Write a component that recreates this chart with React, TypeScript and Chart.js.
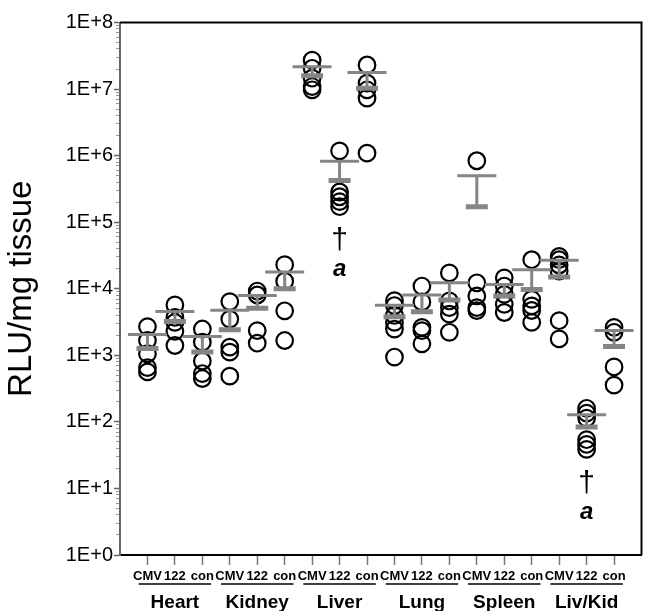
import React, { useEffect, useRef } from "react";
import { Chart, registerables } from "chart.js";

Chart.register(...registerables);

const conditionLabels = ["CMV", "122", "con"];
const tissueLabels = ["Heart", "Kidney", "Liver", "Lung", "Spleen", "Liv/Kid"];
const yTickExponents = [0, 1, 2, 3, 4, 5, 6, 7, 8];

const heartValues = [
  [2700, 1670, 1055, 653, 563],
  [5720, 3705, 3120, 2295, 1405],
  [2483, 1574, 821, 532, 448],
];
const kidneyValues = [
  [6410, 3497, 1327, 1118, 486],
  [9240, 8060, 2350, 1521],
  [22970, 13010, 4660, 1668],
];
const liverValues = [
  [2.72e7, 2.05e7, 1.455e7, 1.09e7, 9.75e6],
  [1.18e6, 2.84e5, 2.41e5, 2.04e5, 1.71e5],
  [2.3e7, 1.225e7, 9.75e6, 7.33e6, 1.09e6],
];
const lungValues = [
  [6630, 5590, 3970, 3120, 2480, 942],
  [10970, 6340, 2630, 2350, 1486],
  [17300, 6560, 5215, 4150, 2218],
];
const spleenValues = [
  [8.37e5, 12280, 7790, 5200, 4700],
  [14580, 10970, 8230, 5840, 4400],
  [27300, 6930, 5530, 4710, 3120],
];
const livKidValues = [
  [30620, 27300, 22750, 18340, 3310, 1763],
  [160, 135, 114, 54, 45.8, 38.6],
  [2630, 2218, 669, 357],
];

// mean (short thick bar) and upper error (long thin bar), per category
const meanValues = [1270, 3230, 1117, 2431, 5094, 10000, 1.59e7, 4.22e5, 1.03e7, 3795, 4500, 6790, 1.7e5, 7790, 9770, 15080, 83.7, 1358];
const upperValues = [2050, 4550, 1914, 4756, 7940, 17900, 2.16e7, 8.2e5, 1.78e7, 5650, 8060, 12280, 5.0e5, 11590, 19360, 26700, 128, 2350];

// categories marked with dagger and "a"
const annotatedCategories = [7, 16];
const daggerText = "\u2020";
const letterText = "a";

const allValues = [heartValues, kidneyValues, liverValues, lungValues, spleenValues, livKidValues].flat();

const FONT = "'Liberation Sans', Arial, sans-serif";
const GREY = "#858585";

export default function App() {
  const ref = useRef<HTMLCanvasElement | null>(null);

  useEffect(() => {
    if (!ref.current) return;

    const points: { x: number; y: number }[] = [];
    allValues.forEach((vals, i) => vals.forEach((v) => points.push({ x: i + 1, y: v })));
    const means = meanValues.map((v, i) => ({ x: i + 1, y: v }));
    const uppers = upperValues.map((v, i) => ({ x: i + 1, y: v }));
    const stems: { x: number; y: number | null }[] = [];
    meanValues.forEach((v, i) => {
      stems.push({ x: i + 1, y: v });
      stems.push({ x: i + 1, y: upperValues[i] });
      stems.push({ x: i + 1, y: null });
    });

    const decorPlugin = {
      id: "decor",
      afterDatasetsDraw(chart: any) {
        const { ctx, scales } = chart;
        const x = scales.x;
        const y = scales.y;
        ctx.save();
        annotatedCategories.forEach((idx) => {
          const vals = allValues[idx];
          const minV = Math.min(...vals);
          const py = y.getPixelForValue(minV);
          const px = x.getPixelForValue(idx + 1);
          ctx.fillStyle = "#000";
          ctx.textAlign = "center";
          ctx.textBaseline = "middle";
          ctx.font = `30px ${FONT}`;
          ctx.fillText(daggerText, px, py + 34);
          ctx.font = `italic bold 24px ${FONT}`;
          ctx.fillText(letterText, px, py + 63);
        });
        ctx.restore();
      },
      afterDraw(chart: any) {
        const { ctx, chartArea, scales } = chart;
        const x = scales.x;
        ctx.save();
        ctx.strokeStyle = "#000";
        ctx.lineWidth = 2;
        ctx.beginPath();
        ctx.moveTo(chartArea.left, chartArea.top);
        ctx.lineTo(chartArea.right, chartArea.top);
        ctx.lineTo(chartArea.right, chartArea.bottom);
        ctx.stroke();
        ctx.lineWidth = 1.5;
        tissueLabels.forEach((_, g) => {
          const c = g * 3 + 2;
          const yy = chartArea.bottom + 29;
          ctx.beginPath();
          ctx.moveTo(x.getPixelForValue(c - 1.32), yy);
          ctx.lineTo(x.getPixelForValue(c + 1.32), yy);
          ctx.stroke();
        });
        ctx.restore();
      },
    };

    const chart = new Chart(ref.current, {
      type: "scatter",
      data: {
        datasets: [
          {
            label: "upper",
            data: uppers,
            pointStyle: "line",
            pointRadius: 19.5,
            pointBorderWidth: 3,
            borderColor: GREY,
            backgroundColor: GREY,
            order: 0,
          } as any,
          {
            label: "mean",
            data: means,
            pointStyle: "line",
            pointRadius: 11,
            pointBorderWidth: 5,
            borderColor: GREY,
            backgroundColor: GREY,
            order: 0,
          } as any,
          {
            label: "stem",
            data: stems,
            showLine: true,
            spanGaps: false,
            borderColor: GREY,
            borderWidth: 3,
            pointRadius: 0,
            order: 0,
          } as any,
          {
            label: "points",
            data: points,
            pointStyle: "circle",
            pointRadius: 8.3,
            pointBorderWidth: 2.2,
            borderColor: "#000",
            backgroundColor: "rgba(0,0,0,0)",
            order: 1,
          } as any,
        ],
      },
      options: {
        animation: false,
        responsive: true,
        maintainAspectRatio: false,
        layout: { padding: { left: 0, right: 5, top: 15, bottom: 0 } },
        plugins: { legend: { display: false }, tooltip: { enabled: false } },
        scales: {
          x: {
            type: "linear",
            position: "bottom",
            min: 0,
            max: 19,
            afterBuildTicks: (s: any) => {
              s.ticks = Array.from({ length: tissueLabels.length * conditionLabels.length }, (_, i) => ({ value: i + 1 }));
            },
            afterFit: (s: any) => {
              s.height = 28;
            },
            ticks: {
              autoSkip: false,
              maxRotation: 0,
              padding: 4,
              color: "#000",
              font: { family: FONT, size: 13, weight: "bold" },
              callback: (v: any) => conditionLabels[(Number(v) - 1) % 3],
            },
            grid: { drawOnChartArea: false, tickLength: 10, tickColor: "#777", tickWidth: 1.5 },
            border: { display: true, color: "#000", width: 2 },
          },
          x2: {
            type: "linear",
            position: "bottom",
            min: 0,
            max: 19,
            afterBuildTicks: (s: any) => {
              s.ticks = tissueLabels.map((_, g) => ({ value: g * 3 + 2 }));
            },
            afterFit: (s: any) => {
              s.height = 28;
            },
            ticks: {
              autoSkip: false,
              maxRotation: 0,
              padding: 0,
              color: "#000",
              font: { family: FONT, size: 19, weight: "bold" },
              callback: (v: any) => tissueLabels[(Number(v) - 2) / 3],
            },
            grid: { display: false },
            border: { display: false },
          },
          y: {
            type: "logarithmic",
            position: "left",
            weight: 1,
            min: 1,
            max: 1e8,
            afterBuildTicks: (s: any) => {
              s.ticks = yTickExponents.map((e) => ({ value: Math.pow(10, e), major: true }));
            },
            afterFit: (s: any) => {
              s.width = 120;
            },
            ticks: {
              autoSkip: false,
              padding: 1,
              color: "#000",
              font: { family: FONT, size: 20 },
              callback: (v: any) => "1E+" + Math.round(Math.log10(Number(v))),
            },
            grid: { drawOnChartArea: false, tickLength: 6, tickColor: "#666", tickWidth: 1.5 },
            border: { display: true, color: "#666", width: 2 },
            title: {
              display: true,
              text: "RLU/mg tissue",
              color: "#000",
              font: { family: FONT, size: 33 },
              padding: { top: 2, bottom: 0 },
            },
          },
          y2: {
            type: "logarithmic",
            position: "left",
            weight: 0,
            min: 1,
            max: 1e8,
            afterBuildTicks: (s: any) => {
              const t: any[] = [];
              yTickExponents.slice(0, -1).forEach((e) => {
                for (let m = 2; m <= 9; m++) t.push({ value: m * Math.pow(10, e) });
              });
              s.ticks = t;
            },
            afterFit: (s: any) => {
              s.width = 0;
            },
            ticks: { display: false },
            grid: { drawOnChartArea: false, tickLength: 4, tickColor: "#999", tickWidth: 1 },
            border: { display: false },
          },
        },
      } as any,
      plugins: [decorPlugin],
    });

    return () => chart.destroy();
  }, []);

  return (
    <div style={{ position: "absolute", left: 0, top: 0, width: 664, height: 611, background: "#fff" }}>
      <canvas ref={ref} />
    </div>
  );
}
